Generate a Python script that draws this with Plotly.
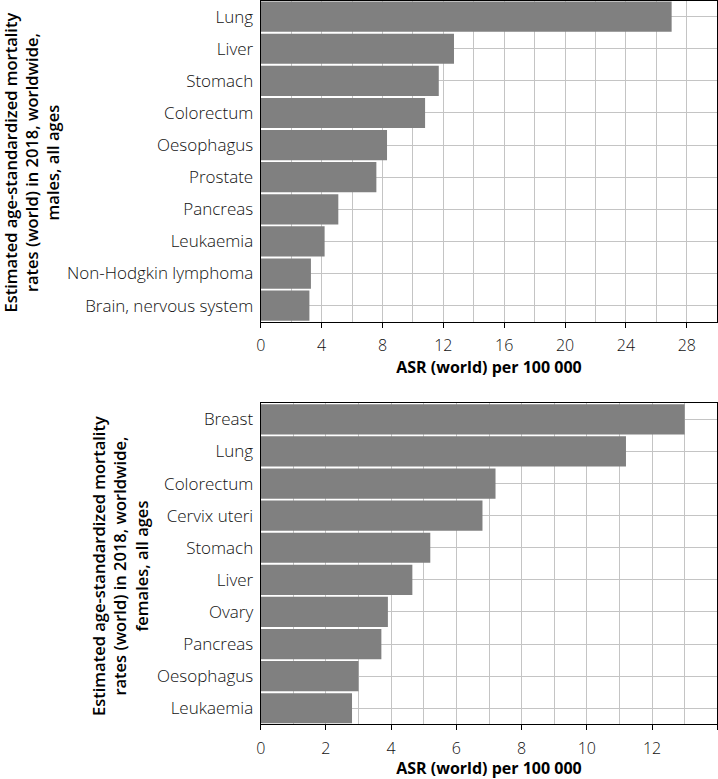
import plotly.graph_objects as go

W, H = 718, 779

male_sites = ["Lung", "Liver", "Stomach", "Colorectum", "Oesophagus", "Prostate",
              "Pancreas", "Leukaemia", "Non-Hodgkin lymphoma", "Brain, nervous system"]
male_asr = [27.0, 12.7, 11.7, 10.8, 8.3, 7.6, 5.1, 4.2, 3.3, 3.2]

female_sites = ["Breast", "Lung", "Colorectum", "Cervix uteri", "Stomach", "Liver",
                "Ovary", "Pancreas", "Oesophagus", "Leukaemia"]
female_asr = [13.0, 11.2, 7.2, 6.8, 5.2, 4.65, 3.9, 3.7, 3.0, 2.8]

male_title = "Estimated age-standardized mortality<br>rates (world) in 2018, worldwide,<br>males, all ages"
female_title = "Estimated age-standardized mortality<br>rates (world) in 2018, worldwide,<br>females, all ages"
x_title = "ASR (world) per 100 000"

BAR = "#808080"
GRID = "#c4c4c4"
FONT = "Open Sans"

fig = go.Figure()
fig.add_trace(go.Bar(x=male_asr, y=male_sites, orientation="h", marker=dict(color=BAR, line=dict(width=0)),
                     xaxis="x", yaxis="y", showlegend=False, hoverinfo="skip"))
fig.add_trace(go.Bar(x=female_asr, y=female_sites, orientation="h", marker=dict(color=BAR, line=dict(width=0)),
                     xaxis="x2", yaxis="y2", showlegend=False, hoverinfo="skip"))

xdom = [260.7 / W, 717.3 / W]

def px_y(top, bottom):
    return [1 - bottom / H, 1 - top / H]

ytickfont = dict(family=FONT, size=17, color="#111", weight=300)
xtickfont = dict(family=FONT, size=16, color="#111", weight=300)
titlefont = dict(family=FONT, size=16, color="#000", weight="bold")

common_x = dict(showline=True, linecolor="black", linewidth=1.2, mirror=True,
                showgrid=True, gridcolor=GRID, gridwidth=1, zeroline=False,
                ticks="outside", ticklen=5, tickcolor="black", tickfont=xtickfont,
                ticklabelstandoff=4,
                automargin=False, title=dict(font=titlefont, standoff=0))
common_y = dict(showline=True, linecolor="black", linewidth=1.2, mirror=True,
                showgrid=True, gridcolor=GRID, gridwidth=1, zeroline=False,
                automargin=False,
                ticks="", tickfont=ytickfont, autorange="reversed", ticklabelstandoff=3)

fig.update_layout(
    width=W, height=H,
    margin=dict(l=0, r=0, t=0, b=0, autoexpand=False),
    paper_bgcolor="white", plot_bgcolor="white",
    bargap=0.06,
    hovermode=False,
    font=dict(family=FONT),
    xaxis=dict(domain=xdom, anchor="y", range=[0, 30], dtick=4, tick0=0,
               minor=dict(dtick=2, showgrid=True, gridcolor=GRID, gridwidth=1),
               title_text=x_title, **common_x),
    yaxis=dict(domain=px_y(0.6, 321.7), anchor="x", **common_y),
    xaxis2=dict(domain=xdom, anchor="y2", range=[0, 14], dtick=2, tick0=0,
                minor=dict(dtick=1, showgrid=True, gridcolor=GRID, gridwidth=1),
                title_text=x_title, **common_x),
    yaxis2=dict(domain=px_y(403.3, 724.3), anchor="x2", **common_y),
    annotations=[
        dict(text=male_title, x=31.5 / W, y=1 - 163 / H, xref="paper", yref="paper",
             textangle=-90, showarrow=False, xanchor="center", yanchor="middle",
             font=dict(family=FONT, size=16.5, color="#000", weight=600)),
        dict(text=female_title, x=120 / W, y=1 - 566 / H, xref="paper", yref="paper",
             textangle=-90, showarrow=False, xanchor="center", yanchor="middle",
             font=dict(family=FONT, size=16.5, color="#000", weight=600)),
    ],
)

fig.write_html("out.html", config={"displayModeBar": False},
               post_script="document.body.style.margin='0';")
